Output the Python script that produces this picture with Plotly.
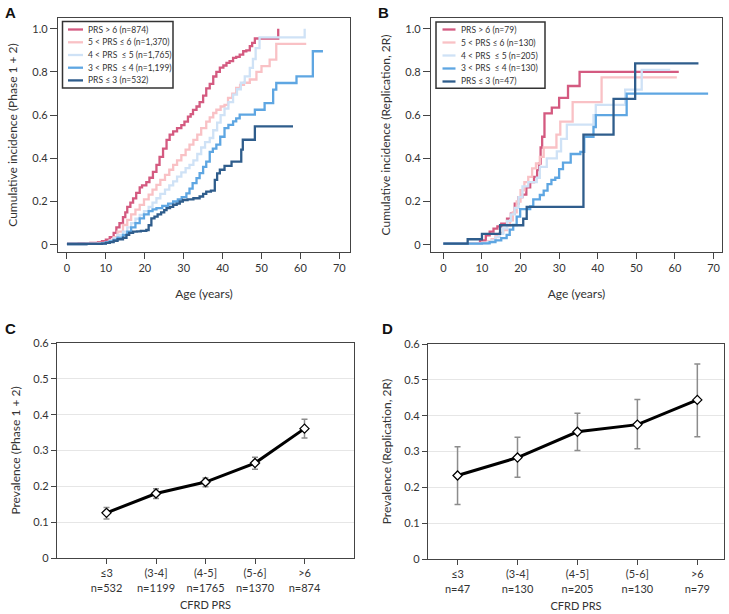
import plotly.graph_objects as go

W, H = 729, 614
FONT = "Lato"

# ---------------- Panel A data (Phase 1 + 2) ----------------
a_labels = ["PRS > 6 (n=874)", "5 < PRS ≤ 6 (n=1,370)", "4 < PRS  ≤ 5 (n=1,765)",
            "3 < PRS  ≤ 4 (n=1,199)", "PRS ≤ 3 (n=532)"]
a_red_t = [0, 3, 6, 8, 9, 10, 11, 12, 12.7, 13.5, 14.4, 15, 15.5, 16.3, 17, 17.8, 18.7, 19.3, 20.4, 21.2,
           22.1, 23, 23.8, 24.7, 25.6, 26.4, 27.3, 28.3, 29.4, 30.2, 31.1, 31.8, 32.4, 33.3, 34.1, 35,
           35.8, 36.7, 37.6, 38.4, 39.3, 40.2, 41.0, 41.8, 42.7, 43.5, 44.4, 45.3, 46.1, 47, 47.6, 48.3, 54.3]
a_red_v = [0.005, 0.006, 0.008, 0.012, 0.016, 0.023, 0.035, 0.055, 0.08, 0.10, 0.128, 0.15, 0.175, 0.195,
           0.214, 0.24, 0.265, 0.275, 0.29, 0.31, 0.337, 0.37, 0.407, 0.445, 0.485, 0.51, 0.525, 0.54,
           0.554, 0.57, 0.593, 0.605, 0.624, 0.64, 0.66, 0.69, 0.724, 0.745, 0.779, 0.80, 0.82, 0.83,
           0.842, 0.85, 0.865, 0.87, 0.88, 0.896, 0.90, 0.92, 0.935, 0.955, 1.0]
a_pink_t = [0, 5, 8, 10, 11, 12, 13, 14.4, 15.5, 16.5, 17.6, 18.7, 19.8, 21, 22, 23, 24, 25.2, 26.3, 27.3,
            28.3, 29.4, 30.5, 31.5, 32.5, 33.5, 34.5, 35.8, 36.7, 37.6, 38.4, 39.5, 40.5, 41.4, 42.5,
            43.5, 44.5, 45.5, 47, 48.7, 50, 52.1, 53.8, 61.5]
a_pink_v = [0.003, 0.005, 0.008, 0.012, 0.02, 0.035, 0.06, 0.091, 0.115, 0.14, 0.162, 0.184, 0.21, 0.232,
            0.255, 0.277, 0.30, 0.323, 0.347, 0.37, 0.39, 0.415, 0.44, 0.463, 0.485, 0.51, 0.54, 0.57,
            0.59, 0.61, 0.625, 0.64, 0.648, 0.68, 0.70, 0.726, 0.74, 0.75, 0.765, 0.80, 0.827, 0.857,
            0.93, 0.93]
a_lblue_t = [0, 5, 9, 10, 11, 12, 13, 14.4, 15.5, 16.5, 17.6, 18.7, 19.8, 21, 22, 23, 24, 25.2, 26.3,
             27.3, 28.3, 29.4, 30.5, 31.5, 32.5, 33.5, 34.5, 35.5, 36.7, 37.6, 38.6, 39.5, 40.5, 41.5,
             42.7, 43.7, 44.7, 45.7, 47, 47.8, 48.5, 49.5, 61.1]
a_lblue_v = [0.003, 0.004, 0.006, 0.01, 0.018, 0.03, 0.045, 0.06, 0.08, 0.10, 0.12, 0.138, 0.155, 0.175,
             0.195, 0.215, 0.235, 0.255, 0.275, 0.293, 0.315, 0.335, 0.355, 0.37, 0.39, 0.42, 0.45,
             0.475, 0.494, 0.53, 0.565, 0.60, 0.63, 0.66, 0.695, 0.72, 0.75, 0.78, 0.819, 0.86, 0.91,
             0.96, 1.0]
a_mblue_t = [0, 5, 9, 10, 11, 12, 13, 14.4, 15.5, 16.5, 17.6, 18.7, 19.8, 21, 22, 23, 24.5, 26, 27.3,
             28.5, 29.5, 30.7, 31.5, 32.3, 33.3, 34.1, 35, 35.8, 36.7, 37.5, 38.4, 39.4, 40.5, 41.5,
             42.7, 43.5, 44.4, 48.3, 50.8, 53, 53.8, 59, 63.2, 65.8]
a_mblue_v = [0.003, 0.004, 0.006, 0.01, 0.015, 0.022, 0.033, 0.045, 0.06, 0.08, 0.10, 0.122, 0.14, 0.155,
             0.163, 0.169, 0.18, 0.19, 0.20, 0.21, 0.22, 0.238, 0.26, 0.285, 0.308, 0.331, 0.36, 0.385,
             0.43, 0.445, 0.463, 0.50, 0.54, 0.555, 0.571, 0.585, 0.602, 0.625, 0.656, 0.718, 0.749,
             0.78, 0.896, 0.896]
a_dblue_t = [0, 5, 9, 10, 11, 12, 13, 14.4, 15.3, 16, 17, 18, 19, 20.4, 21, 21.7, 22.5, 23.3, 24.2, 25,
             25.6, 26.5, 27.3, 28.2, 29, 29.8, 31, 32.5, 34.1, 35, 35.8, 37, 38, 38.6, 39.3, 40.5, 42.3,
             44.8, 45.2, 48.3, 58.1]
a_dblue_v = [0.003, 0.004, 0.005, 0.008, 0.012, 0.018, 0.025, 0.032, 0.045, 0.055, 0.06, 0.062, 0.064,
             0.068, 0.09, 0.122, 0.13, 0.14, 0.15, 0.16, 0.169, 0.175, 0.185, 0.19, 0.2, 0.207, 0.21,
             0.215, 0.223, 0.235, 0.246, 0.25, 0.30, 0.33, 0.347, 0.365, 0.385, 0.44, 0.486, 0.548, 0.548]

# ---------------- Panel B data (Replication, 2R) ----------------
b_labels = ["PRS > 6 (n=79)", "5 < PRS ≤ 6 (n=130)", "4 < PRS  ≤ 5 (n=205)",
            "3 < PRS  ≤ 4 (n=130)", "PRS ≤ 3 (n=47)"]
b_red_t = [0, 9.5, 11, 12, 13, 14, 15, 16.5, 17.5, 18.5, 19.5, 20.5, 21.5, 22.5, 23.5, 24.3, 24.8, 25.2,
           25.6, 26.2, 28.1, 30, 32.3, 35.3, 61]
b_red_v = [0.005, 0.02, 0.043, 0.06, 0.074, 0.085, 0.097, 0.12, 0.144, 0.19, 0.22, 0.232, 0.265, 0.29,
           0.314, 0.345, 0.376, 0.45, 0.50, 0.608, 0.635, 0.68, 0.735, 0.80, 0.80]
b_pink_t = [0, 10, 11.5, 12.5, 13.5, 14.5, 15.5, 16.5, 17.3, 18, 19, 20, 21, 22, 23, 24, 25, 26, 29.3,
            30.3, 33.5, 41, 60.5]
b_pink_v = [0.005, 0.008, 0.015, 0.025, 0.04, 0.055, 0.067, 0.09, 0.113, 0.15, 0.2, 0.252, 0.29, 0.314,
            0.353, 0.376, 0.407, 0.45, 0.51, 0.57, 0.66, 0.775, 0.775]
b_lblue_t = [0, 10, 11.5, 12.5, 13.5, 14.5, 15.5, 16.5, 17.5, 18.5, 19.5, 20.5, 22, 24.2, 25, 26.8, 29.4,
             30.5, 32, 38.9, 39.5, 47.1, 51.4, 58.8]
b_lblue_v = [0.005, 0.006, 0.012, 0.02, 0.035, 0.05, 0.075, 0.11, 0.14, 0.17, 0.22, 0.27, 0.29, 0.31,
             0.36, 0.40, 0.432, 0.49, 0.556, 0.60, 0.648, 0.718, 0.81, 0.81]
b_mblue_t = [0, 10, 12, 13.5, 15, 16.4, 17.2, 18.1, 19, 19.9, 22.5, 23.3, 25, 26, 27, 28, 29, 30, 31, 33,
             35.5, 36.5, 38.9, 39.5, 47.5, 68.6]
b_mblue_v = [0.005, 0.006, 0.012, 0.02, 0.03, 0.045, 0.07, 0.091, 0.13, 0.165, 0.177, 0.21, 0.23, 0.25,
             0.28, 0.30, 0.31, 0.35, 0.38, 0.42, 0.43, 0.50, 0.545, 0.60, 0.70, 0.70]
b_dblue_t = [0, 6.3, 10, 14.7, 20.7, 21.6, 36.3, 44.1, 49.7, 66.1]
b_dblue_v = [0.005, 0.025, 0.05, 0.09, 0.12, 0.175, 0.51, 0.675, 0.84, 0.84]

colors = ["#d45a80", "#f9c1c5", "#cfe2f6", "#5ea6e2", "#2f5d8c"]

# ---------------- Panels C and D data ----------------
c_cats = ["≤3<br>n=532", "(3-4]<br>n=1199", "(4-5]<br>n=1765", "(5-6]<br>n=1370", ">6<br>n=874"]
c_prev = [0.126, 0.180, 0.212, 0.265, 0.361]
c_low = [0.109, 0.166, 0.199, 0.248, 0.335]
c_high = [0.141, 0.193, 0.223, 0.281, 0.387]

d_cats = ["≤3<br>n=47", "(3-4]<br>n=130", "(4-5]<br>n=205", "(5-6]<br>n=130", ">6<br>n=79"]
d_prev = [0.233, 0.283, 0.355, 0.375, 0.444]
d_low = [0.152, 0.228, 0.303, 0.308, 0.341]
d_high = [0.313, 0.340, 0.407, 0.445, 0.544]

km_ticks = [0, 10, 20, 30, 40, 50, 60, 70]
ci_ticks = [0, 0.2, 0.4, 0.6, 0.8, 1.0]
ci_text = ["0", "0.2", "0.4", "0.6", "0.8", "1.0"]
pv_ticks = [0, 0.1, 0.2, 0.3, 0.4, 0.5, 0.6]
pv_text = ["0", "0.1", "0.2", "0.3", "0.4", "0.5", "0.6"]

fig = go.Figure()

a_series = [(a_red_t, a_red_v), (a_pink_t, a_pink_v), (a_lblue_t, a_lblue_v),
            (a_mblue_t, a_mblue_v), (a_dblue_t, a_dblue_v)]
b_series = [(b_red_t, b_red_v), (b_pink_t, b_pink_v), (b_lblue_t, b_lblue_v),
            (b_mblue_t, b_mblue_v), (b_dblue_t, b_dblue_v)]

for i, (t, v) in enumerate(a_series):
    fig.add_trace(go.Scatter(x=t, y=v, mode="lines", line=dict(color=colors[i], width=2.3, shape="hv"),
                             name=a_labels[i], xaxis="x", yaxis="y", showlegend=False))
for i, (t, v) in enumerate(b_series):
    fig.add_trace(go.Scatter(x=t, y=v, mode="lines", line=dict(color=colors[i], width=2.3, shape="hv"),
                             name=b_labels[i], xaxis="x2", yaxis="y2", showlegend=False))


def err(prev, low, high):
    return dict(type="data", symmetric=False,
                array=[h - p for p, h in zip(prev, high)],
                arrayminus=[p - l for p, l in zip(prev, low)],
                color="#8c8c8c", thickness=1.5, width=3)


marker = dict(symbol="diamond", size=7, color="white", line=dict(color="black", width=1.3))
fig.add_trace(go.Scatter(x=c_cats, y=c_prev, mode="lines+markers", error_y=err(c_prev, c_low, c_high),
                         line=dict(color="black", width=3), marker=marker, showlegend=False,
                         xaxis="x3", yaxis="y3"))
fig.add_trace(go.Scatter(x=d_cats, y=d_prev, mode="lines+markers", error_y=err(d_prev, d_low, d_high),
                         line=dict(color="black", width=3), marker=marker, showlegend=False,
                         xaxis="x4", yaxis="y4"))


def px(x):
    return x / W


def py(y):
    return 1 - y / H


axis_common = dict(showline=True, mirror=True, linecolor="#444", linewidth=1.3, ticks="outside",
                   tickcolor="#444", tickfont=dict(family=FONT, size=11, color="#333"),
                   zeroline=False, showgrid=False, automargin=False)

title_font = dict(family=FONT, size=12, color="#333")
cat_font = dict(family=FONT, size=11, color="#333")

layout = dict(
    width=W, height=H, margin=dict(l=0, r=0, t=0, b=0, autoexpand=False),
    paper_bgcolor="white", plot_bgcolor="white",
    font=dict(family=FONT, color="#333"),
    showlegend=False,
    xaxis=dict(axis_common, domain=[px(58), px(350)], range=[-2.3, 72.75], tickvals=km_ticks, ticklen=6,
               title=dict(text="Age (years)", font=title_font, standoff=16), anchor="y"),
    yaxis=dict(axis_common, domain=[py(252), py(18)], range=[-0.034, 1.05], tickvals=ci_ticks,
               ticktext=ci_text, ticklen=7,
               title=dict(text="Cumulative incidence (Phase 1 + 2)", font=title_font, standoff=12),
               anchor="x"),
    xaxis2=dict(axis_common, domain=[px(431), px(722)], range=[-3.2, 72.2], tickvals=km_ticks, ticklen=6,
                title=dict(text="Age (years)", font=title_font, standoff=16), anchor="y2"),
    yaxis2=dict(axis_common, domain=[py(252), py(18)], range=[-0.034, 1.05], tickvals=ci_ticks,
                ticktext=ci_text, ticklen=7,
                title=dict(text="Cumulative incidence (Replication, 2R)", font=title_font, standoff=12),
                anchor="x2"),
    xaxis3=dict(axis_common, domain=[px(57), px(354)], range=[-1, 5], type="category", ticklen=5,
                tickfont=cat_font,
                title=dict(text="CFRD PRS", font=dict(family=FONT, size=11, color="#333"), standoff=8),
                anchor="y3"),
    yaxis3=dict(axis_common, domain=[py(558), py(343)], range=[0, 0.6], tickvals=pv_ticks,
                ticktext=pv_text, ticklen=5, showgrid=True, gridcolor="#e6e6e6", gridwidth=1.3,
                title=dict(text="Prevalence (Phase 1 + 2)", font=title_font, standoff=10), anchor="x3"),
    xaxis4=dict(axis_common, domain=[px(428), px(724)], range=[-0.493, 4.445], type="category", ticklen=5,
                tickfont=cat_font,
                title=dict(text="CFRD PRS", font=dict(family=FONT, size=11, color="#333"), standoff=8),
                anchor="y4"),
    yaxis4=dict(axis_common, domain=[py(559), py(344)], range=[0, 0.6], tickvals=pv_ticks,
                ticktext=pv_text, ticklen=5, showgrid=True, gridcolor="#e6e6e6", gridwidth=1.3,
                title=dict(text="Prevalence (Replication, 2R)", font=title_font, standoff=10), anchor="x4"),
)
fig.update_layout(**layout)

# Manual legends (box, line samples, labels) to match the compact reference legend
legend_specs = [
    # labels, box (x0, x1, y0, y1), sample (x0, x1), text x, row y positions
    (a_labels, (62.5, 173, 21.5, 88), (68, 83), 86, [29.5, 42.3, 55, 67.7, 80.4]),
    (b_labels, (436, 545, 22, 88.3), (442.5, 455.5), 459, [29.5, 42.5, 55.5, 68.5, 81.5]),
]
for labels, box, samp, tx, rows in legend_specs:
    fig.add_shape(type="rect", xref="paper", yref="paper", x0=px(box[0]), x1=px(box[1]),
                  y0=py(box[3]), y1=py(box[2]), line=dict(color="#333", width=1.5),
                  fillcolor="white", layer="above")
    for i, lbl in enumerate(labels):
        fig.add_shape(type="line", xref="paper", yref="paper", x0=px(samp[0]), x1=px(samp[1]),
                      y0=py(rows[i]), y1=py(rows[i]), line=dict(color=colors[i], width=2.3),
                      layer="above")
        fig.add_annotation(text=lbl.replace("  ", "&nbsp; "), x=px(tx), y=py(rows[i]), xref="paper",
                           yref="paper", xanchor="left", yanchor="middle", showarrow=False,
                           font=dict(family=FONT, size=8.5, color="#333"))

for lbl, x, y in [("A", 3, 2), ("B", 376, 2), ("C", 3, 318), ("D", 380, 318)]:
    fig.add_annotation(text=f"<b>{lbl}</b>", x=px(x), y=py(y), xref="paper", yref="paper",
                       xanchor="left", yanchor="top", showarrow=False,
                       font=dict(family="Liberation Sans", size=15, color="#111"))

fig.write_html("out.html", config={"displayModeBar": False},
               post_script="document.body.style.margin='0';")
